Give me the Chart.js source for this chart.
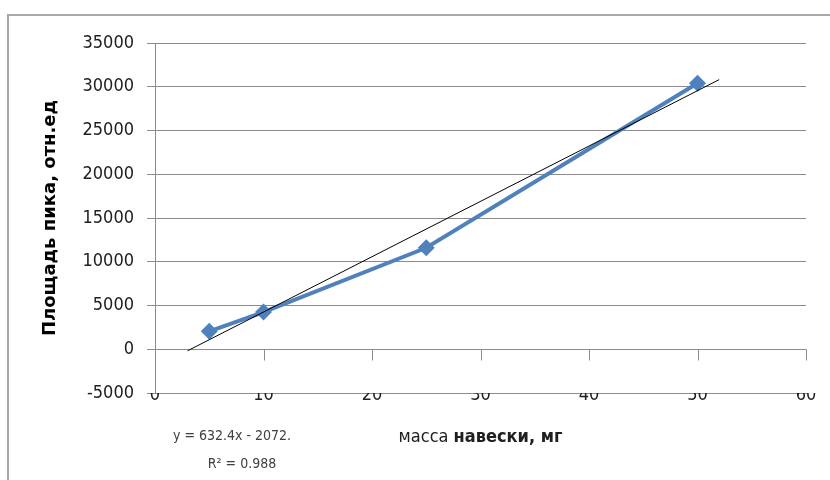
<!DOCTYPE html>
<html lang="ru">
<head>
  <meta charset="UTF-8">
  <title>Площадь пика</title>
  <script src="https://cdn.jsdelivr.net/npm/chart.js"></script>
  <style>
    body { margin: 0; background: #ffffff; }
    .caixa { position: relative; width: 830px; height: 480px; }
  </style>
</head>
<body>
  <div class="caixa">
    <canvas id="grafico" width="830" height="480"></canvas>
  </div>
<script>
  // масса навески, мг
  const massa = [5, 10, 25, 50];
  // площадь пика, отн.ед
  const area = [2050, 4250, 11600, 30400];
  // линия тренда (линейная), концы
  const trendX = [3, 52];
  const trendY = [-175, 30813];
  const eqText = "y = 632.4x - 2072.";
  const r2Text = "R² = 0.988";

  const fonte = "'DejaVu Sans Condensed', 'DejaVu Sans', sans-serif";

  // рамка, засечки по оси x и подписи
  const extras = {
    id: "extras",
    beforeDraw(chart) {
      const ctx = chart.ctx;
      ctx.save();
      ctx.fillStyle = "#ffffff";
      ctx.fillRect(0, 0, chart.width, chart.height);
      ctx.strokeStyle = "#a8a8a8";
      ctx.lineWidth = 2;
      ctx.beginPath();
      ctx.moveTo(8, 480);
      ctx.lineTo(8, 15);
      ctx.lineTo(830, 15);
      ctx.stroke();
      ctx.restore();
    },
    beforeDatasetsDraw(chart) {
      const ctx = chart.ctx;
      const sx = chart.scales.x, sy = chart.scales.y;
      const y0 = Math.round(sy.getPixelForValue(0)) + 0.5;
      ctx.save();
      ctx.strokeStyle = "#8c8c8c";
      ctx.lineWidth = 1;
      ctx.beginPath();
      sx.ticks.forEach(t => {
        const px = Math.round(sx.getPixelForValue(t.value)) + 0.5;
        ctx.moveTo(px, y0);
        ctx.lineTo(px, y0 + 11);
      });
      ctx.stroke();
      ctx.restore();
    },
    afterDraw(chart) {
      const ctx = chart.ctx;
      ctx.save();
      ctx.textBaseline = "middle";
      // подпись оси x: "масса" обычным, остальное жирным
      const p1 = "масса ", p2 = "навески, мг";
      ctx.font = "18px " + fonte;
      const w1 = ctx.measureText(p1).width;
      ctx.font = "bold 18px " + fonte;
      const w2 = ctx.measureText(p2).width;
      let x = (chart.chartArea.left + chart.chartArea.right) / 2 - (w1 + w2) / 2;
      ctx.fillStyle = "#202020";
      ctx.textAlign = "left";
      ctx.font = "18px " + fonte;
      ctx.fillText(p1, x, 437);
      ctx.font = "bold 18px " + fonte;
      ctx.fillText(p2, x + w1, 437);
      // уравнение тренда
      ctx.fillStyle = "#404040";
      ctx.textAlign = "center";
      ctx.font = "14px " + fonte;
      ctx.fillText(eqText, 232, 436);
      ctx.fillText(r2Text, 242, 464);
      ctx.restore();
    }
  };

  const dados = {
    datasets: [
      {
        label: "Тренд",
        data: trendX.map((v, i) => ({ x: v, y: trendY[i] })),
        showLine: true,
        borderColor: "#000000",
        borderWidth: 1,
        pointRadius: 0,
        order: 0
      },
      {
        label: "Площадь",
        data: massa.map((v, i) => ({ x: v, y: area[i] })),
        showLine: true,
        borderColor: "#4f81bd",
        backgroundColor: "#4f81bd",
        borderWidth: 4,
        pointStyle: "rectRot",
        pointRadius: 8.5,
        pointBorderWidth: 0,
        order: 1
      }
    ]
  };

  const config = {
    type: "scatter",
    data: dados,
    options: {
      responsive: false,
      animation: false,
      layout: { padding: { left: 0, right: 24, top: 43, bottom: 0 } },
      plugins: {
        legend: { display: false },
        tooltip: { enabled: false }
      },
      scales: {
        x: {
          type: "linear",
          min: 0,
          max: 60,
          afterFit(s) { s.height = 87; },
          grid: { display: false },
          border: { display: true, color: "#8c8c8c" },
          ticks: {
            stepSize: 10,
            padding: -16,
            color: "#202020",
            font: { family: fonte, size: 18 },
            callback: v => String(v)
          }
        },
        y: {
          min: -5000,
          max: 35000,
          afterFit(s) { s.width = 155; },
          grid: { color: "#8c8c8c", tickLength: 8 },
          border: { display: true, color: "#8c8c8c" },
          ticks: {
            stepSize: 5000,
            padding: 13,
            color: "#202020",
            font: { family: fonte, size: 18 },
            callback: v => String(v)
          },
          title: {
            display: true,
            text: "Площадь пика, отн.ед",
            color: "#000000",
            font: { family: "'DejaVu Sans', sans-serif", size: 18, weight: "bold" },
            padding: { top: 40, bottom: 0 }
          }
        }
      }
    },
    plugins: [extras]
  };

  const myChart = new Chart(document.getElementById("grafico"), config);
</script>
</body>
</html>
